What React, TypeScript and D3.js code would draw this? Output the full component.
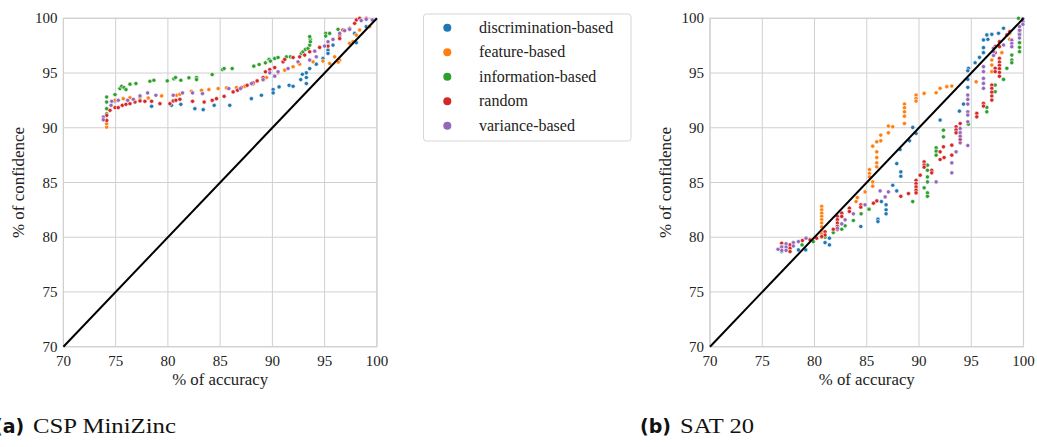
import * as d3 from 'd3';

// colours of the five strategies (tab10)
const seriesNames = ['discrimination-based', 'feature-based', 'information-based', 'random', 'variance-based'];
const seriesColors = ['#1f77b4', '#ff7f0e', '#2ca02c', '#d62728', '#9467bd'];
const ticks = [70, 75, 80, 85, 90, 95, 100];

// (a) CSP MiniZinc : [accuracy, confidence]
const cspDiscrimination = [
  [74.94, 92.42], [78.44, 91.96], [80.35, 92.05], [81.24, 92.14], [82.58, 91.74], [83.38, 91.65],
  [84.43, 92.05], [85.92, 92.05], [87.99, 92.66], [88.95, 92.97], [90.07, 93.49], [90.07, 93.18],
  [90.64, 93.73], [91.6, 93.88], [91.98, 93.79], [92.71, 94.4], [93.25, 94.59], [93.25, 94.04],
  [92.87, 94.89], [93.25, 95.02], [93.57, 95.41], [94.2, 95.81], [94.84, 96.33], [95.32, 97.1],
  [95.32, 96.79], [95.8, 97.55], [98.03, 97.77], [97.87, 98.62], [98.98, 99.24]
];
const cspFeature = [
  [74.14, 90.06], [74.14, 90.37], [74.94, 92.51], [75.73, 92.66], [76.37, 92.75], [77.33, 92.75],
  [78.12, 92.72], [79.4, 92.91], [80.83, 92.97], [81.15, 93.06], [82.26, 93.33], [83.22, 93.42],
  [83.92, 93.49], [84.81, 93.58], [85.61, 93.64], [86.56, 93.67], [87.36, 93.79], [88.15, 93.98],
  [89.11, 94.34], [89.43, 94.59], [90.54, 95.02], [91.18, 95.26], [91.98, 95.57], [92.61, 95.81],
  [93.89, 96.02], [94.84, 96.09], [95.48, 95.87], [95.96, 96.48], [96.44, 96.18], [96.3, 96.0],
  [97.39, 97.71], [97.71, 97.86], [98.03, 98.47], [98.35, 98.93], [99.3, 99.24]
];
const cspInformation = [
  [74.14, 92.81], [74.14, 92.35], [74.14, 91.74], [74.14, 91.28], [74.94, 93.03], [75.41, 93.58],
  [75.57, 93.79], [75.8, 93.67], [75.99, 93.49], [76.37, 93.98], [76.94, 94.04], [78.28, 94.25],
  [78.66, 94.34], [79.94, 94.28], [80.57, 94.47], [80.73, 94.59], [81.24, 94.34], [82.01, 94.56],
  [82.74, 94.59], [82.74, 94.4], [84.24, 94.86], [85.22, 95.32], [85.38, 95.41], [86.15, 95.41],
  [88.22, 95.63], [88.73, 95.78], [89.33, 95.93], [89.68, 96.24], [89.81, 96.09], [90.22, 96.33],
  [90.54, 96.42], [91.34, 96.48], [91.72, 96.48], [91.98, 96.42], [92.77, 96.79], [92.93, 96.94],
  [93.16, 97.16], [93.41, 97.25], [93.57, 97.55], [93.63, 98.07], [93.57, 98.32], [93.63, 97.86],
  [95.1, 98.62], [95.1, 98.38], [95.48, 98.62], [96.28, 98.99]
];
const cspRandom = [
  [74.14, 90.67], [74.14, 91.13], [74.46, 91.59], [74.94, 91.84], [75.25, 91.84], [75.64, 92.05],
  [75.99, 92.14], [76.37, 92.2], [76.85, 92.35], [77.33, 92.45], [77.8, 92.42], [78.44, 92.42],
  [79.24, 92.2], [80.19, 92.2], [80.51, 92.45], [80.77, 92.51], [81.15, 92.6], [82.36, 92.42],
  [83.47, 92.35], [84.24, 92.51], [84.65, 92.66], [85.38, 92.87], [86.24, 93.27], [86.66, 93.43],
  [87.04, 93.67], [87.58, 93.88], [88.15, 94.1], [88.54, 94.28], [89.11, 94.59], [89.33, 95.11],
  [89.75, 95.32], [90.22, 95.5], [91.02, 96.02], [91.18, 96.24], [91.98, 96.42], [92.61, 96.48],
  [93.09, 96.64], [93.57, 96.94], [94.52, 97.34], [95.32, 97.46], [96.44, 98.4], [96.44, 98.15],
  [96.75, 98.93], [97.39, 99.08], [97.87, 99.54], [98.03, 99.85], [98.35, 100], [98.98, 100]
];
const cspVariance = [
  [73.82, 90.98], [73.82, 90.73], [74.62, 92.42], [74.56, 92.05], [75.25, 92.51], [76.15, 92.51],
  [76.69, 92.6], [77.33, 92.91], [78.06, 93.18], [78.85, 92.97], [80.51, 92.97], [81.4, 93.18],
  [82.36, 93.18], [83.31, 93.12], [85.83, 93.58], [86.94, 93.58], [88.0, 94.04], [89.11, 94.4],
  [89.75, 95.02], [90.22, 94.71], [90.54, 95.11], [91.5, 95.41], [92.45, 96.02], [93.57, 96.18],
  [94.05, 97.0], [94.2, 96.48], [94.99, 97.46], [95.32, 97.86], [95.8, 98.07], [96.44, 98.62],
  [96.91, 98.87], [97.39, 98.99], [98.5, 99.79], [98.98, 99.91], [99.56, 99.85]
];

// (b) SAT 20 : [accuracy, confidence]
const satDiscrimination = [
  [98.09, 99.09], [97.61, 98.63], [96.97, 98.54], [96.59, 98.08], [96.49, 98.48], [96.17, 98.02],
  [96.17, 97.32], [96.17, 96.86], [95.79, 96.43], [95.37, 95.94], [94.73, 95.43], [94.67, 95.21],
  [94.67, 94.42], [94.67, 93.69], [94.26, 92.16], [93.87, 91.52], [92.02, 90.7], [89.4, 90.03],
  [89.72, 89.48], [89.09, 88.81], [88.19, 88.01], [87.87, 86.73], [88.26, 85.97], [88.26, 85.57],
  [87.49, 84.75], [87.87, 84.23], [86.4, 83.26], [86.85, 82.96], [86.85, 82.5], [86.85, 82.14],
  [86.07, 81.65], [86.07, 81.43], [84.43, 80.98], [81.43, 79.91], [81.43, 79.3], [81.01, 79.51],
  [79.16, 78.84], [78.46, 78.84]
];
const satFeature = [
  [99.68, 98.93], [98.68, 98.63], [98.68, 98.08], [97.93, 96.86], [96.97, 96.19], [96.97, 95.73],
  [96.97, 95.12], [95.47, 94.2], [93.14, 93.81], [92.66, 93.75], [92.02, 93.6], [91.64, 93.2],
  [90.49, 93.14], [89.72, 92.99], [89.72, 92.68], [89.72, 92.44], [88.61, 92.16], [88.61, 91.83],
  [88.61, 91.46], [88.61, 91.06], [88.61, 90.39], [87.49, 90.09], [87.07, 90.15], [87.07, 89.54],
  [86.34, 89.33], [86.34, 88.81], [85.96, 88.72], [85.57, 88.32], [85.96, 87.8], [85.96, 87.28],
  [85.96, 86.79], [85.96, 86.43], [85.26, 86.18], [85.26, 85.82], [85.26, 85.51], [85.57, 85.05],
  [85.57, 84.66], [84.84, 84.14], [84.1, 83.62], [83.98, 83.26], [80.69, 82.81], [80.69, 82.5],
  [80.69, 82.2], [80.69, 81.9], [80.69, 81.6], [80.69, 81.3], [80.69, 80.95], [80.69, 80.6],
  [80.69, 80.3], [80.69, 80.0]
];
const satInformation = [
  [99.52, 100], [99.62, 98.63], [99.62, 97.77], [99.62, 97.35], [99.62, 96.95], [98.88, 96.64],
  [98.88, 96.19], [98.88, 95.94], [98.41, 95.43], [98.09, 94.42], [97.29, 93.9], [97.29, 93.29],
  [96.49, 91.86], [96.49, 91.46], [94.73, 90.33], [92.34, 89.78], [92.34, 89.17], [91.64, 88.17],
  [91.64, 87.86], [91.64, 87.5], [90.81, 86.58], [90.81, 86.12], [90.81, 85.51], [90.81, 85.05],
  [90.49, 84.51], [90.81, 84.05], [90.81, 83.74], [89.4, 83.26], [85.22, 82.56], [84.46, 82.14],
  [83.72, 81.53], [82.93, 81.04], [82.61, 80.73], [81.8, 80.43], [81.01, 80.0], [79.89, 79.6],
  [78.81, 79.3], [76.86, 78.69]
];
const satRandom = [
  [98.68, 98.78], [98.41, 98.48], [97.7, 97.87], [97.7, 97.41], [97.7, 96.34], [97.7, 96.0],
  [97.7, 95.7], [97.7, 95.4], [97.7, 95.05], [97.7, 94.7], [97.29, 97.41], [97.29, 96.86],
  [97.29, 95.43], [97.29, 95.12], [96.97, 93.9], [96.97, 93.6], [96.97, 93.25], [96.97, 92.9],
  [96.97, 92.53], [96.17, 92.22], [96.17, 91.98], [95.53, 91.31], [95.53, 91.0], [93.94, 90.39],
  [93.55, 90.09], [93.55, 89.8], [93.55, 89.54], [93.94, 88.93], [93.14, 88.41], [92.34, 88.26],
  [92.02, 87.8], [92.02, 87.1], [92.4, 87.28], [93.14, 87.5], [91.22, 86.12], [91.22, 85.88],
  [90.49, 86.88], [90.49, 86.6], [90.49, 86.4], [90.11, 85.67], [89.72, 85.2], [89.72, 84.9],
  [89.72, 84.6], [89.72, 84.3], [89.72, 84.05], [88.99, 83.99], [88.26, 83.74], [85.96, 83.32],
  [85.64, 83.11], [84.43, 82.96], [84.43, 82.75], [83.34, 82.65], [83.34, 82.35], [82.61, 82.2],
  [82.61, 81.9], [82.19, 81.9], [82.19, 81.6], [82.19, 81.3], [82.19, 81.0], [82.19, 80.7],
  [81.8, 80.73], [81.01, 80.5], [81.01, 80.2], [80.69, 80.06], [80.21, 79.91], [79.57, 79.76],
  [78.84, 79.7], [77.66, 79.3], [77.66, 79.0], [77.66, 78.69], [76.86, 79.45], [76.86, 79.15]
];
const satVariance = [
  [99.94, 99.95], [99.94, 99.7], [99.94, 99.45], [99.62, 99.24], [99.62, 98.9], [99.62, 98.5],
  [99.62, 98.2], [98.88, 98.0], [98.88, 97.7], [98.88, 97.4], [98.09, 97.56], [97.13, 97.26],
  [97.13, 96.95], [97.13, 96.6], [96.17, 95.58], [96.17, 95.12], [96.17, 94.51], [96.17, 94.05],
  [96.17, 93.6], [94.67, 92.99], [94.67, 92.59], [94.67, 92.16], [94.67, 91.46], [94.67, 91.16],
  [94.67, 90.55], [93.94, 89.94], [93.94, 89.55], [93.94, 89.23], [93.94, 88.62], [93.55, 87.8],
  [94.67, 88.38], [93.14, 86.79], [91.64, 85.05], [93.14, 85.88], [86.28, 84.23], [86.76, 83.68],
  [87.07, 84.14], [84.84, 82.96], [83.72, 82.14], [82.93, 81.59], [82.61, 81.22], [82.19, 80.82],
  [79.19, 79.91], [78.46, 79.6], [77.98, 79.5], [77.98, 79.2], [77.28, 79.4], [77.28, 79.1],
  [77.28, 78.8], [76.86, 79.1], [76.86, 78.8], [76.51, 78.9]
];

const cspSeries = [cspDiscrimination, cspFeature, cspInformation, cspRandom, cspVariance];
const satSeries = [satDiscrimination, satFeature, satInformation, satRandom, satVariance];

const serifStyle = { fontFamily: 'Liberation Serif, DejaVu Serif, serif' };
const gridColor = '#d0d0d0';

const Panel = ({ left, series }: { left: number; series: number[][][] }) => {
  const x = d3.scaleLinear().domain([70, 100]).range([left, left + 313.5]);
  const y = d3.scaleLinear().domain([70, 100]).range([346.7, 18.3]);
  const line = d3.line<number>().x(d => x(d)).y(d => y(d));
  return (
    <g>
      {ticks.map(t => (
        <g key={'g' + t}>
          <line x1={x(t)} x2={x(t)} y1={y(70)} y2={y(100)} stroke={gridColor} strokeWidth={1} />
          <line x1={x(70)} x2={x(100)} y1={y(t)} y2={y(t)} stroke={gridColor} strokeWidth={1} />
          <text x={x(t)} y={365.7} textAnchor="middle" fontSize={15} style={serifStyle} fill="#222">{t}</text>
          <text x={x(70) - 6} y={y(t) + 5} textAnchor="end" fontSize={15} style={serifStyle} fill="#222">{t}</text>
        </g>
      ))}
      <rect x={x(70)} y={y(100)} width={x(100) - x(70)} height={y(70) - y(100)} fill="none" stroke={gridColor} strokeWidth={1.2} />
      {series.map((pts, i) => (
        <g key={i}>
          {pts.map((p, j) => (
            <circle key={j} cx={x(p[0])} cy={y(p[1])} r={2.1} fill={seriesColors[i]} stroke="#fff" strokeWidth={0.6} />
          ))}
        </g>
      ))}
      <path d={line([70, 100]) || ''} stroke="#000" strokeWidth={2} fill="none" />
      <text x={x(85)} y={384.5} textAnchor="middle" fontSize={16} style={serifStyle} fill="#222" textLength={96} lengthAdjust="spacingAndGlyphs">% of accuracy</text>
      <text transform={`translate(${x(70) - 39.5},${y(85)}) rotate(-90)`} textAnchor="middle" fontSize={16} style={serifStyle} fill="#222" textLength={111} lengthAdjust="spacingAndGlyphs">% of confidence</text>
    </g>
  );
};

const Legend = () => {
  const rowY = d3.scaleLinear().domain([0, 4]).range([27.8, 125.7]);
  return (
    <g>
      <rect x={423.5} y={14} width={207.5} height={127} rx={3} fill="#fff" stroke="#d6d6d6" strokeWidth={1} />
      {seriesNames.map((n, i) => (
        <g key={n}>
          <circle cx={447.3} cy={rowY(i)} r={4} fill={seriesColors[i]} />
          <text x={479} y={rowY(i) + 5} fontSize={16} style={serifStyle} fill="#222">{n}</text>
        </g>
      ))}
    </g>
  );
};

export default function App() {
  return (
    <svg width={1037} height={447} style={{ position: 'absolute', left: 0, top: 0, background: '#fff' }}>
      <Panel left={63.4} series={cspSeries} />
      <Panel left={710} series={satSeries} />
      <Legend />
      <text x={-6} y={432.7} fontSize={19} fontWeight="bold" style={{ fontFamily: 'DejaVu Sans, sans-serif' }} fill="#111">(a)</text>
      <text x={33} y={432.7} fontSize={20} style={serifStyle} fill="#111" textLength={143} lengthAdjust="spacingAndGlyphs">CSP MiniZinc</text>
      <text x={640} y={432.7} fontSize={19} fontWeight="bold" style={{ fontFamily: 'DejaVu Sans, sans-serif' }} fill="#111">(b)</text>
      <text x={680} y={432.7} fontSize={20} style={serifStyle} fill="#111" textLength={74} lengthAdjust="spacingAndGlyphs">SAT 20</text>
    </svg>
  );
}
